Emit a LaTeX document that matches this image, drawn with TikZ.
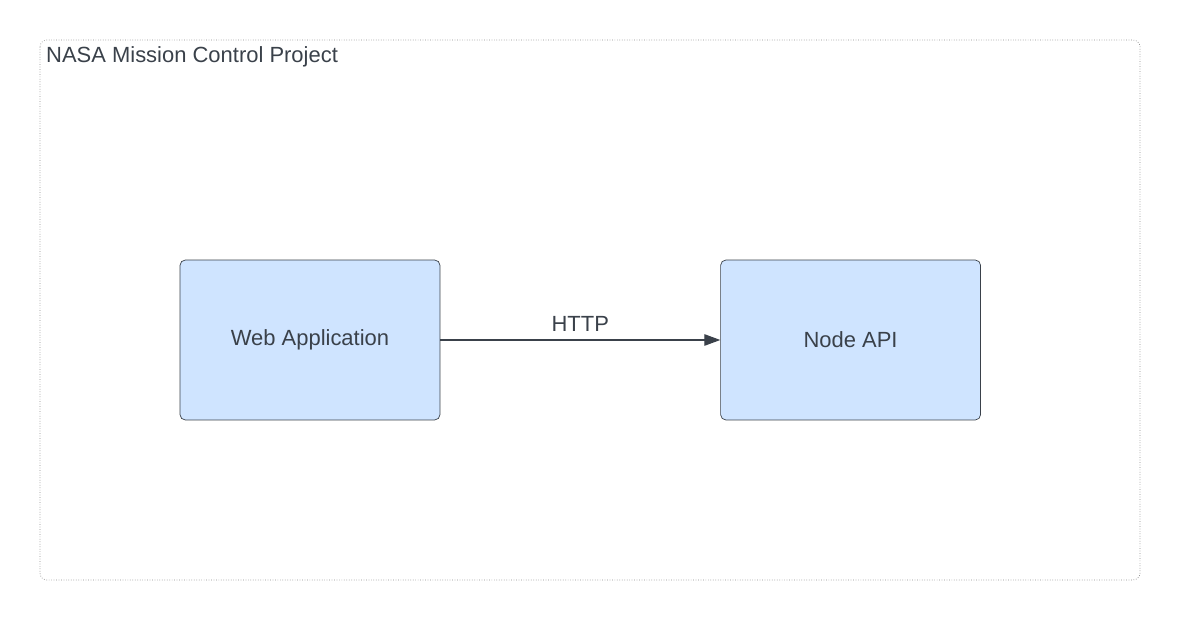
\documentclass[tikz,border=0pt]{standalone}
\usepackage{fontspec}
\setmainfont{Liberation Sans}
\usepackage{xcolor}
\usetikzlibrary{arrows.meta}
\usetikzlibrary{positioning}
\definecolor{inkgray}{HTML}{3A414A}
\definecolor{boxblue}{HTML}{CFE4FF}
\definecolor{framegray}{HTML}{8C8C8C}

\begin{document}
\begin{tikzpicture}[x=0.02cm,y=-0.02cm]
\tikzset{service/.style={rectangle,draw=inkgray,fill=boxblue,rounded corners=3pt,minimum width=5.2cm,minimum height=3.2cm,text=inkgray,font=\fontsize{12.5}{15}\selectfont}}
\useasboundingbox (0,0) rectangle (1181,621);
\draw[framegray,densely dotted,rounded corners=4pt](40,40) rectangle (1140,580);
\node[anchor=west,text=inkgray,font=\fontsize{12.5}{15}\selectfont](title) at (40,57){NASA Mission Control Project};
\node[service](web) at (310,340){Web Application};
\node[service](api)[right=5.6cm of web]{Node API};
\draw[inkgray,semithick,-{Triangle[length=9pt,width=6.5pt]}](web) -- node[above=1pt,text=inkgray,font=\fontsize{12.5}{15}\selectfont]{HTTP} (api);
\end{tikzpicture}
\end{document}
